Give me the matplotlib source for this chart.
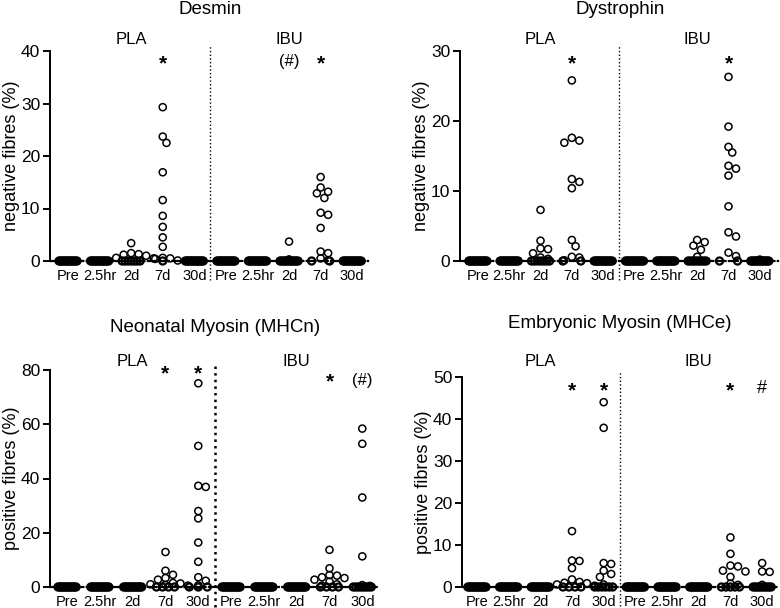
import matplotlib
matplotlib.use('Agg')
import matplotlib.pyplot as plt
import matplotlib.transforms as mtransforms
import numpy as np

plt.rcParams['font.family'] = ['Liberation Sans', 'DejaVu Sans']

groups = ['Pre', '2.5hr', '2d', '7d', '30d', 'Pre', '2.5hr', '2d', '7d', '30d']
n_subj = 14

# non-zero values read per group (PLA Pre..30d, then IBU Pre..30d);
# the rest of the n_subj subjects in each group are 0
desmin = [
    [], [], [3.4, 1.5, 1.3, 1.2, 1.0, 0.6, 0.5],
    [29.3, 23.7, 22.5, 16.9, 11.6, 8.6, 6.5, 4.5, 2.7, 0.6, 0.5, 0.4, 0.1], [],
    [], [], [3.7, 0.3],
    [16.0, 14.0, 13.2, 12.9, 12.0, 9.2, 8.8, 6.3, 1.8, 1.5, 0.5, 0.1], [],
]
dystrophin = [
    [], [], [7.3, 2.9, 1.8, 1.7, 1.1, 0.5, 0.3],
    [25.8, 17.6, 17.2, 16.9, 11.7, 11.3, 10.4, 3.0, 2.1, 0.6, 0.5, 0.1], [],
    [], [], [3.0, 2.7, 2.2, 1.6, 0.6],
    [26.3, 19.2, 16.3, 15.5, 13.6, 13.2, 12.2, 7.8, 4.1, 3.5, 1.2, 0.7], [0.2],
]
neonatal = [
    [], [], [],
    [12.9, 6.0, 4.5, 3.3, 2.7, 1.5, 1.3, 1.0, 0.8, 0.5],
    [75.1, 52.0, 37.3, 36.9, 28.0, 25.3, 16.4, 9.3, 3.6, 2.3, 0.6],
    [], [], [],
    [13.7, 6.9, 4.4, 4.2, 3.6, 3.3, 2.7, 2.0, 1.0, 0.5],
    [58.4, 52.8, 33.0, 11.3, 0.7, 0.4],
]
embryonic = [
    [], [], [],
    [13.3, 6.3, 6.2, 4.5, 1.8, 1.2, 1.0, 0.9, 0.6, 0.3],
    [44.0, 37.9, 5.7, 5.5, 3.9, 3.1, 2.4, 0.6],
    [], [], [],
    [11.8, 7.9, 5.1, 4.9, 3.9, 3.7, 2.4, 0.8, 0.5],
    [5.7, 3.7, 3.6, 0.5],
]

# significance marks: (group index, text, y)
desmin_marks = [(3, '*', 37.5), (7, '(#)', 38), (8, '*', 37.5)]
dystrophin_marks = [(3, '*', 28.2), (8, '*', 28.2)]
neonatal_marks = [(3, '*', 78.5), (4, '*', 78.5), (8, '*', 75.5), (9, '(#)', 76)]
embryonic_marks = [(3, '*', 46.8), (4, '*', 46.8), (8, '*', 46.8), (9, '#', 47.3)]

W, H = 780, 608
fig = plt.figure(figsize=(W / 100, H / 100), dpi=100)


def px_axes(l, r, t, b):
    return fig.add_axes([l / W, (H - b) / H, (r - l) / W, (b - t) / H])


def swarm(vals, xpx, ypx, diam=7.5, zero_w=9):
    vals = np.asarray(vals, float)
    offs = np.zeros(len(vals))
    zi = np.where(vals == 0)[0]
    if len(zi) > 1:
        offs[zi] = np.linspace(-zero_w, zero_w, len(zi))
    placed = []
    for i in np.where(vals != 0)[0]:
        k = 0
        while True:
            step = (k + 1) // 2 * (1 if k % 2 else -1) * diam * 0.5
            ok = all(np.hypot(step - xo, (vals[i] - yo) * ypx) >= diam * 0.85
                     for xo, yo in placed)
            if ok:
                break
            k += 1
        offs[i] = step
        placed.append((step, vals[i]))
    return offs / xpx


def panel(ax, data, marks, ymax, ystep, ylabel, xlim, title, title_xy,
          sep_lw=1.0, lab_dy=11):
    ax.set_xlim(*xlim)
    ax.set_ylim(0, ymax)
    fig.canvas.draw()
    bb = ax.get_window_extent()
    xpx = bb.width / (xlim[1] - xlim[0])
    ypx = bb.height / ymax
    for gi, nz in enumerate(data):
        vals = np.array(list(nz) + [0.0] * (n_subj - len(nz)))
        xs = gi + swarm(vals, xpx, ypx)
        zero = vals == 0
        if zero.any():
            ax.scatter(xs[zero], vals[zero], s=26, facecolor='none',
                       edgecolor='black', linewidth=1.6, clip_on=False, zorder=3)
        if (~zero).any():
            ax.scatter(xs[~zero], vals[~zero], s=26, facecolor='none',
                       edgecolor='black', linewidth=1.1, clip_on=False, zorder=3)
    for gi, txt, yv in marks:
        if txt == '*':
            ax.text(gi, yv, txt, ha='center', va='center', fontsize=15,
                    fontweight='bold')
        else:
            ax.text(gi, yv, txt, ha='center', va='center',
                    fontsize=13 if txt == '#' else 12)
    for sp in ['top', 'right']:
        ax.spines[sp].set_visible(False)
    ax.spines['left'].set_linewidth(1.4)
    ax.spines['bottom'].set_linewidth(1.6)
    ax.spines['bottom'].set_linestyle((0, (4, 1.5)))
    ax.set_yticks(np.arange(0, ymax + 1, ystep))
    ax.set_xticks(range(len(groups)))
    ax.set_xticklabels(groups)
    ax.tick_params(axis='y', direction='out', length=5, width=1.4,
                   labelsize=12.5, pad=2)
    ax.tick_params(axis='x', length=0, labelsize=10.5, pad=6)
    ax.set_ylabel(ylabel, fontsize=13)
    ax.yaxis.set_label_coords(-30 / bb.width, 0.5)
    trans = mtransforms.blended_transform_factory(ax.transData, ax.transAxes)
    ax.plot([4.5, 4.5], [-0.09, 1.03], transform=trans, ls=':', lw=sep_lw,
            color='black', clip_on=False)
    off = lab_dy / bb.height
    ax.text(2, 1 + off, 'PLA', transform=trans, ha='center', va='center',
            fontsize=12)
    ax.text(7, 1 + off, 'IBU', transform=trans, ha='center', va='center',
            fontsize=12)
    fig.text(title_xy[0] / W, 1 - title_xy[1] / H, title, ha='center',
             va='center', fontsize=13.5)


ax1 = px_axes(50, 368, 51, 261)
ax2 = px_axes(460, 778, 51, 261)
ax3 = px_axes(50, 380, 370, 587)
ax4 = px_axes(462, 778, 377, 587)

panel(ax1, desmin, desmin_marks, 40, 10, 'negative fibres (%)',
      (-0.57, 9.5), 'Desmin', (210, 10))
panel(ax2, dystrophin, dystrophin_marks, 30, 10, 'negative fibres (%)',
      (-0.57, 9.58), 'Dystrophin', (620, 10))
panel(ax3, neonatal, neonatal_marks, 80, 20, 'positive fibres (%)',
      (-0.52, 9.54), 'Neonatal Myosin (MHCn)', (215, 327), sep_lw=1.8,
      lab_dy=8)
panel(ax4, embryonic, embryonic_marks, 50, 10, 'positive fibres (%)',
      (-0.47, 9.5), 'Embryonic Myosin (MHCe)', (620, 324), lab_dy=15)

fig.savefig('out.png', dpi=100)
